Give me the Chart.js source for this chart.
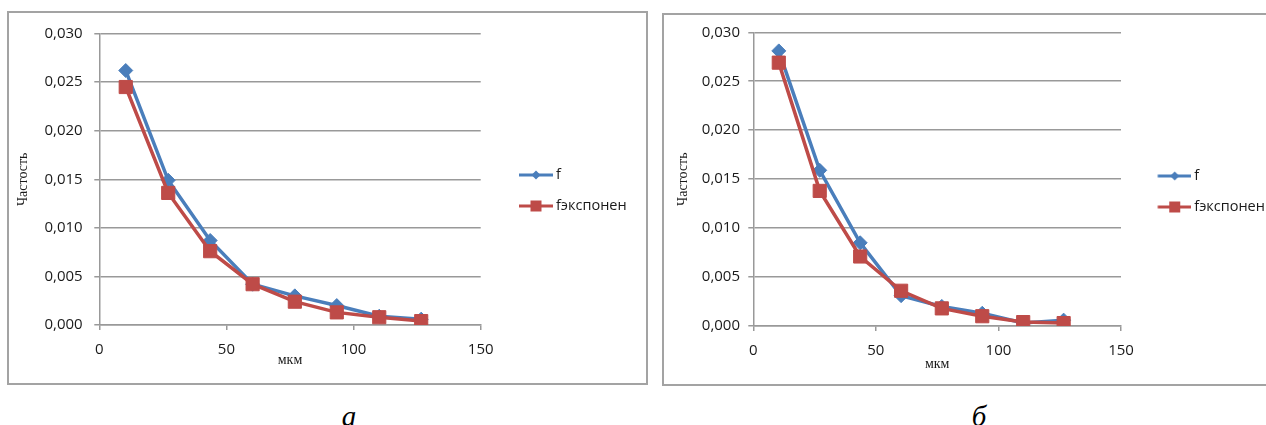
<!DOCTYPE html>
<html>
<head>
<meta charset="utf-8">
<script src="https://cdn.jsdelivr.net/npm/chart.js@4.4.1/dist/chart.umd.min.js"></script>
<style>
  html, body { margin: 0; padding: 0; background: #fff; width: 1266px; height: 425px; overflow: hidden; }
  .frame { position: absolute; border: 2px solid #a3a3a3; box-sizing: border-box; }
  #frameA { left: 7px; top: 11px; width: 641px; height: 374px; }
  #frameB { left: 662px; top: 13px; width: 700px; height: 373px; }
  canvas { position: absolute; }
  #chartA { left: 9px; top: 13px; }
  #chartB { left: 664px; top: 15px; }
  .caption { position: absolute; width: 40px; text-align: center; font: italic 29px "Liberation Serif", serif; line-height: 29px; color: #000; }
</style>
</head>
<body>
<div class="frame" id="frameA"></div>
<div class="frame" id="frameB"></div>
<canvas id="chartA" width="637" height="370"></canvas>
<canvas id="chartB" width="620" height="369"></canvas>
<div class="caption" id="capA" style="left:329px;top:402px"></div>
<div class="caption" id="capB" style="left:959px;top:402px"></div>
<script>
// particle size, мкм (same classes on both panels)
const sizes = [10.4, 27.1, 43.6, 60.3, 76.9, 93.4, 110.1, 126.6];

// panel а
const fA    = [0.0262, 0.0149, 0.0087, 0.0042, 0.0030, 0.0020, 0.0009, 0.0006];
const fExpA = [0.0245, 0.0136, 0.0076, 0.0042, 0.0024, 0.0013, 0.0008, 0.0004];

// panel б
const fB    = [0.0281, 0.0159, 0.0085, 0.0031, 0.0020, 0.0013, 0.0003, 0.0006];
const fExpB = [0.0269, 0.0138, 0.0071, 0.0036, 0.0018, 0.0010, 0.0004, 0.0003];

const seriesNames = ['f', 'fэкспонен'];
const captions = ['а', 'б'];
const xTitle = 'мкм';
const yTitle = 'Частость';

const X_MAX = 150, X_STEP = 50;
const Y_MAX = 0.03, Y_STEP = 0.005;

const BLUE = '#4A7EBB';
const RED = '#BE4B48';
const GRID = '#999999';
const TEXT = '#1a1a1a';

document.getElementById('capA').textContent = captions[0];
document.getElementById('capB').textContent = captions[1];

// legend swatch: line with marker, left part left blank to shift it
function makeIcon(color, shape, margin) {
  const c = document.createElement('canvas');
  c.width = margin + 34;
  c.height = 16;
  const ctx = c.getContext('2d');
  ctx.strokeStyle = color;
  ctx.fillStyle = color;
  ctx.lineWidth = 3;
  ctx.beginPath();
  ctx.moveTo(margin, 8);
  ctx.lineTo(margin + 34, 8);
  ctx.stroke();
  const cx = margin + 17;
  ctx.beginPath();
  if (shape === 'diamond') {
    ctx.moveTo(cx, 3.5); ctx.lineTo(cx + 4.5, 8); ctx.lineTo(cx, 12.5); ctx.lineTo(cx - 4.5, 8);
  } else {
    ctx.rect(cx - 5.5, 2.5, 11, 11);
  }
  ctx.closePath();
  ctx.fill();
  return c;
}

const tickFont = { family: 'Open Sans', size: 15 };
const titleFont = { family: 'Liberation Serif', size: 14 };

function buildChart(id, fVals, expVals, g) {
  const icons = [makeIcon(BLUE, 'diamond', g.iconMargin), makeIcon(RED, 'square', g.iconMargin)];
  return new Chart(document.getElementById(id), {
    type: 'line',
    data: {
      datasets: [
        {
          label: seriesNames[0],
          data: sizes.map((x, i) => ({ x: x, y: fVals[i] })),
          borderColor: BLUE, backgroundColor: BLUE,
          borderWidth: 3.5, tension: 0,
          pointStyle: 'rectRot', pointRadius: 7, pointBorderWidth: 1,
          order: 1
        },
        {
          label: seriesNames[1],
          data: sizes.map((x, i) => ({ x: x, y: expVals[i] })),
          borderColor: RED, backgroundColor: RED,
          borderWidth: 3.5, tension: 0,
          pointStyle: 'rect', pointRadius: 9.3, pointBorderWidth: 1,
          order: 0
        }
      ]
    },
    options: {
      responsive: false,
      animation: false,
      devicePixelRatio: 1,
      layout: { padding: g.padding },
      plugins: {
        tooltip: { enabled: false },
        legend: {
          position: 'right',
          fullSize: false,
          maxWidth: 152,
          title: { display: true, text: '', padding: 0, font: { size: g.legendGap, lineHeight: 1 } },
          labels: {
            usePointStyle: true,
            pointStyleWidth: icons[0].width - 8.5,
            padding: 16.5,
            color: TEXT,
            font: { family: 'Open Sans', size: 14.5 },
            generateLabels(chart) {
              const items = Chart.defaults.plugins.legend.labels.generateLabels(chart);
              items.sort((a, b) => a.datasetIndex - b.datasetIndex);
              items.forEach(it => { it.pointStyle = icons[it.datasetIndex]; });
              return items;
            }
          }
        }
      },
      scales: {
        x: {
          type: 'linear',
          min: 0, max: X_MAX,
          afterFit(scale) { scale.height = g.xHeight; },
          ticks: { stepSize: X_STEP, padding: g.xTickPad, maxRotation: 0, color: TEXT, font: tickFont },
          grid: { drawOnChartArea: false, tickLength: 5, color: GRID, lineWidth: 1.5 },
          border: { color: GRID, width: 1.5 },
          title: { display: true, text: xTitle, color: TEXT, font: titleFont, padding: 0 }
        },
        y: {
          min: 0, max: Y_MAX,
          afterFit(scale) { scale.width = g.yWidth; },
          ticks: {
            stepSize: Y_STEP, padding: g.yTickPad, color: TEXT, font: tickFont,
            callback: v => v.toFixed(3).replace('.', ',')
          },
          grid: { tickLength: 5, color: GRID, lineWidth: 1.5 },
          border: { color: GRID, width: 1.5 },
          title: { display: true, text: yTitle, color: TEXT, font: titleFont, padding: { top: g.yTitlePad, bottom: 0 } }
        }
      }
    }
  });
}

buildChart('chartA', fA, fExpA, {
  padding: { left: 0, top: 18.7, right: 13.3, bottom: 14.6 },
  yWidth: 90.3, xHeight: 43.4,
  xTickPad: 11, yTickPad: 11.6, yTitlePad: 6.1,
  legendGap: 22.3, iconMargin: 26
});

buildChart('chartB', fB, fExpB, {
  padding: { left: 0, top: 16.7, right: 11, bottom: 11.6 },
  yWidth: 89.3, xHeight: 46.4,
  xTickPad: 11, yTickPad: 8.3, yTitlePad: 10.6,
  legendGap: 24.7, iconMargin: 24.5
});
</script>
</body>
</html>
